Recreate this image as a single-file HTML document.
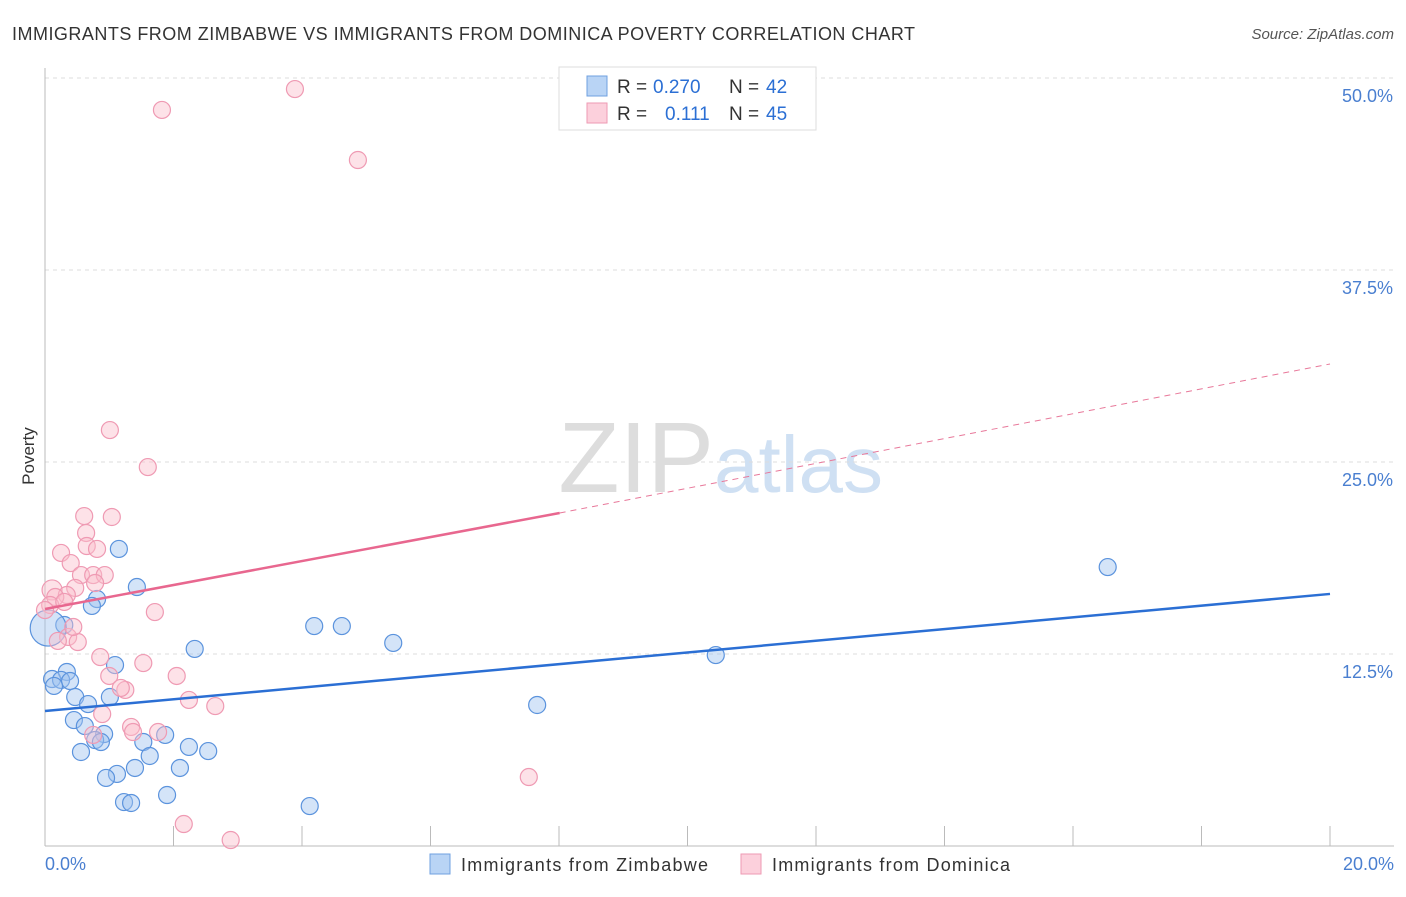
<!DOCTYPE html>
<html><head><meta charset="utf-8"><style>
body{margin:0;background:#fff;font-family:"Liberation Sans",sans-serif}
svg text{font-family:"Liberation Sans",sans-serif}
</style></head><body>
<svg id="c" width="1406" height="892" xmlns="http://www.w3.org/2000/svg">
<text x="12" y="40" font-size="18" fill="#333" textLength="903">IMMIGRANTS FROM ZIMBABWE VS IMMIGRANTS FROM DOMINICA POVERTY CORRELATION CHART</text>
<text x="1394" y="39" font-size="15" fill="#555" text-anchor="end" font-style="italic">Source: ZipAtlas.com</text>
<text x="34" y="456" font-size="17" fill="#333" text-anchor="middle" transform="rotate(-90 34 456)">Poverty</text>
<text x="714" y="492" font-size="100" fill="#ddd" text-anchor="end" font-family="Liberation Serif">ZIP</text>
<text x="714" y="492" font-size="80" fill="#cfe0f3">atlas</text>
<g id="grid"></g><g id="marks"></g>
<g>
<rect x="559" y="67" width="257" height="63" fill="#fff" stroke="#ddd"/>
<rect x="587" y="76" width="20" height="20" fill="#b9d4f5" stroke="#6fa0e0"/>
<text x="617" y="93" font-size="19" fill="#333">R =</text>
<text x="653" y="93" font-size="19" fill="#2b6fd4">0.270</text>
<text x="729" y="93" font-size="19" fill="#333">N =</text>
<text x="766" y="93" font-size="19" fill="#2b6fd4">42</text>
<rect x="587" y="103" width="20" height="20" fill="#fcd0dc" stroke="#ee9ab3"/>
<text x="617" y="120" font-size="19" fill="#333">R =</text>
<text x="665" y="120" font-size="19" fill="#2b6fd4">0.111</text>
<text x="729" y="120" font-size="19" fill="#333">N =</text>
<text x="766" y="120" font-size="19" fill="#2b6fd4">45</text>
</g>
<g>
<rect x="430" y="854" width="20" height="20" fill="#b9d4f5" stroke="#6fa0e0"/>
<text x="461" y="871" font-size="18" fill="#333" textLength="247">Immigrants from Zimbabwe</text>
<rect x="741" y="854" width="20" height="20" fill="#fcd0dc" stroke="#ee9ab3"/>
<text x="772" y="871" font-size="18" fill="#333" textLength="238">Immigrants from Dominica</text>
</g>
</svg>
<script>
const blueX=[1.15,1.43,0.81,0.73,0.30,0.05,1.09,0.34,0.11,0.25,0.39,0.14,0.47,0.67,1.01,2.33,4.19,4.62,5.42,0.45,0.62,0.92,0.78,0.87,1.53,1.87,2.24,2.54,0.56,1.63,1.40,2.10,1.12,0.95,1.90,1.23,1.34,4.12,7.66,10.44,16.54];
const blueY=[19.34,16.86,16.08,15.63,14.39,14.19,11.78,11.33,10.87,10.81,10.74,10.42,9.70,9.24,9.70,12.83,14.32,14.32,13.22,8.20,7.81,7.29,6.90,6.77,6.77,7.23,6.45,6.18,6.12,5.86,5.08,5.08,4.69,4.43,3.32,2.86,2.80,2.60,9.18,12.43,18.16];
const pinkX=[3.89,1.82,4.87,1.01,1.60,0.61,1.04,0.64,0.25,0.65,0.81,0.40,0.56,0.75,0.93,0.78,0.11,0.47,0.34,0.16,0.08,0.30,0,1.71,0.36,0.20,0.51,0.44,0.86,1.53,1.00,2.05,1.25,1.18,2.24,2.65,0.89,1.34,1.37,1.76,0.75,7.53,2.16,2.89];
const pinkY=[49.28,47.92,44.66,27.08,24.67,21.48,21.42,20.38,19.08,19.53,19.34,18.42,17.64,17.64,17.64,17.12,16.67,16.80,16.34,16.21,15.69,15.89,15.36,15.23,13.61,13.35,13.28,14.26,12.30,11.91,11.07,11.07,10.16,10.29,9.51,9.11,8.59,7.75,7.42,7.42,7.23,4.49,1.43,0.39];
const yTicks=[12.5,25,37.5,50];
const xTickLabels=["0.0%","20.0%"];
const blueTrend=[8.79,16.41];
const pinkTrend=[15.43,21.68,31.38];
const NS="http://www.w3.org/2000/svg";
const sx=v=>45+v*64.25, sy=v=>846-v*15.36;
function mk(p,t,a){const e=document.createElementNS(NS,t);for(const k in a)e.setAttribute(k,a[k]);p.appendChild(e);return e;}
const g=document.getElementById('grid'), m=document.getElementById('marks');
yTicks.forEach(t=>{
 const l=mk(g,'line',{x1:45,x2:1394,y1:sy(t),y2:sy(t),stroke:'#ddd','stroke-dasharray':'4,4'});
 
 
 const tx=mk(g,'text',{x:1393,y:sy(t)+24,'font-size':18,fill:'#4a7fd0','text-anchor':'end'});
 tx.textContent=t.toFixed(1)+'%';
 
 
});
const ax=mk(g,'line',{x1:45,x2:45,y1:68,y2:846,stroke:'#bbb'});


const bx=mk(g,'line',{x1:45,x2:1394,y1:846,y2:846,stroke:'#bbb'});


for(let i=1;i<=10;i++){const t=mk(g,'line',{x1:sx(i*2),x2:sx(i*2),y1:826,y2:846,stroke:'#bbb'});
 
 }
xTickLabels.forEach((s,i)=>{const t=mk(g,'text',{x:i?1394:45,y:870,'font-size':18,fill:'#4a7fd0','text-anchor':i?'end':'start'});t.textContent=s;
 
 });
blueX.forEach((x,i)=>{const c=mk(m,'circle',{cx:sx(x),cy:sy(blueY[i]),r:i==5?18:8.5,fill:'rgba(160,196,240,0.45)',stroke:'#5b93dd','stroke-width':1.2});
 
 });
pinkX.forEach((x,i)=>{const c=mk(m,'circle',{cx:sx(x),cy:sy(pinkY[i]),r:i==16?10:8.5,fill:'rgba(250,190,205,0.45)',stroke:'#ef9ab3','stroke-width':1.2});
 
 });
const bl=mk(m,'line',{x1:sx(0),y1:sy(blueTrend[0]),x2:sx(20),y2:sy(blueTrend[1]),stroke:'#2b6fd4','stroke-width':2.5});


const pl=mk(m,'line',{x1:sx(0),y1:sy(pinkTrend[0]),x2:sx(8.01),y2:sy(pinkTrend[1]),stroke:'#e8678f','stroke-width':2.5});


const pd=mk(m,'line',{x1:sx(8.01),y1:sy(pinkTrend[1]),x2:sx(20),y2:sy(pinkTrend[2]),stroke:'#e8789a','stroke-width':1,'stroke-dasharray':'6,5'});


</script>
</body></html>
